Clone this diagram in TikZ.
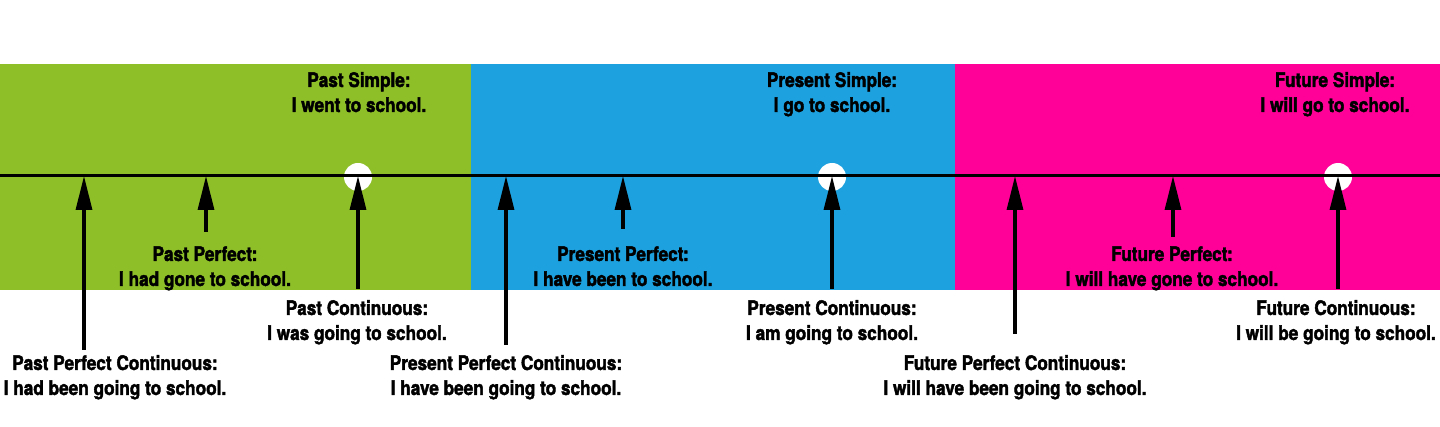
\documentclass[tikz,border=0pt]{standalone}
\usepackage{fontspec}
\setmainfont{TeX Gyre Heros}[FakeStretch=0.86, BoldFeatures={FakeBold=2}]
\usetikzlibrary{arrows.meta}
\definecolor{pastgreen}{HTML}{8EBF29}
\definecolor{presblue}{HTML}{1DA1DF}
\definecolor{futmag}{HTML}{FF0099}
\tikzset{
  lbl/.style={font=\fontsize{20}{25}\selectfont\bfseries, align=center, inner sep=0pt, anchor=base},
  ptr/.style={line width=3.2pt, -{Triangle[width=16pt,length=34pt]}},
  tline/.style={line width=3pt},
  nowdot/.style={circle, fill=white, minimum size=28pt, inner sep=0pt},
}
\begin{document}
\begin{tikzpicture}[x=1pt,y=-1pt]
\useasboundingbox (0,0) rectangle (1440,427);
% bands
\fill[pastgreen] (0,64) rectangle (471,290);
\fill[presblue] (471,64) rectangle (955,290);
\fill[futmag] (955,64) rectangle (1440,290);
% now dots
\node[nowdot] (d1) at (358,177) {};
\node[nowdot] (d2) at (832,177) {};
\node[nowdot] (d3) at (1338,177) {};
% timeline
\coordinate (L) at (0,176);
\coordinate (R) at (1440,176);
\draw[tline] (L) -- (R);
% timeline points
\coordinate (t1) at (84,176);
\coordinate (t2) at (206,176);
\coordinate (t3) at (358,176);
\coordinate (t4) at (506,176);
\coordinate (t5) at (623,176);
\coordinate (t6) at (832,176);
\coordinate (t7) at (1015,176);
\coordinate (t8) at (1173,176);
\coordinate (t9) at (1338,176);
% arrow ends
\coordinate (b1) at (84,350);
\coordinate (b2) at (206,232);
\coordinate (b3) at (358,289);
\coordinate (b4) at (506,345);
\coordinate (b5) at (623,229);
\coordinate (b6) at (832,289);
\coordinate (b7) at (1015,334);
\coordinate (b8) at (1173,237);
\coordinate (b9) at (1338,289);
\foreach \i in {1,...,9} { \draw[ptr] (b\i) -- (t\i); }
% labels (anchor = baseline of last line)
\node[lbl] (ps) at (359,112) {Past Simple:\\I went to school.};
\node[lbl] (prs) at (832,112) {Present Simple:\\I go to school.};
\node[lbl] (fs) at (1335,112) {Future Simple:\\I will go to school.};
\node[lbl] (pp) at (205,286) {Past Perfect:\\I had gone to school.};
\node[lbl] (prp) at (623,286) {Present Perfect:\\I have been to school.};
\node[lbl] (fp) at (1172,286) {Future Perfect:\\I will have gone to school.};
\node[lbl] (pc) at (357,340) {Past Continuous:\\I was going to school.};
\node[lbl] (prc) at (832,340) {Present Continuous:\\I am going to school.};
\node[lbl] (fc) at (1336,340) {Future Continuous:\\I will be going to school.};
\node[lbl] (ppc) at (115,395) {Past Perfect Continuous:\\I had been going to school.};
\node[lbl] (prpc) at (506,395) {Present Perfect Continuous:\\I have been going to school.};
\node[lbl] (fpc) at (1015,395) {Future Perfect Continuous:\\I will have been going to school.};
\end{tikzpicture}
\end{document}
